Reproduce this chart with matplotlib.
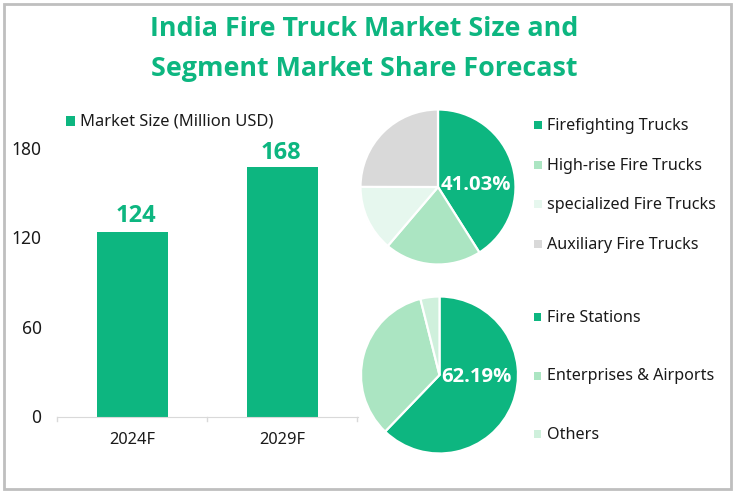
import matplotlib
matplotlib.use("Agg")
import matplotlib.pyplot as plt
from matplotlib.patches import Rectangle
from matplotlib.transforms import ScaledTranslation

plt.rcParams['font.family'] = ['Noto Sans', 'DejaVu Sans']
BOLD = ['Open Sans', 'Liberation Sans', 'DejaVu Sans']

W, H = 735, 495
GREEN = '#0DB680'
years = ['2024F', '2029F']
market_size = [124, 168]
y_ticks = [0, 60, 120, 180]
bar_legend = 'Market Size (Million USD)'
title_lines = ['India Fire Truck Market Size and', 'Segment Market Share Forecast']

seg_labels = ['Firefighting Trucks', 'High-rise Fire Trucks', 'specialized Fire Trucks', 'Auxiliary Fire Trucks']
seg_values = [41.03, 20.2, 13.8, 24.97]
seg_colors = [GREEN, '#ABE5C2', '#E6F7EE', '#D9D9D9']
seg_center_label = '41.03%'

app_labels = ['Fire Stations', 'Enterprises & Airports', 'Others']
app_values = [62.19, 33.9, 3.91]
app_colors = [GREEN, '#ABE5C2', '#CFF0DC']
app_center_label = '62.19%'

fig = plt.figure(figsize=(W / 100, H / 100), dpi=100)
bg = fig.add_axes([0, 0, 1, 1])
bg.set_xlim(0, W)
bg.set_ylim(H, 0)
bg.axis('off')
bg.add_patch(Rectangle((4, 4), 727, 485, fill=False, ec='#BFBFBF', lw=2))


def axes_px(x0, y0, x1, y1):
    return fig.add_axes([x0 / W, 1 - y1 / H, (x1 - x0) / W, (y1 - y0) / H])


for line, y in zip(title_lines, [36, 76]):
    bg.text(364, y, line, ha='center', va='baseline', fontsize=19.4,
            family=BOLD, fontweight='bold', color=GREEN)

# Bars
ax = axes_px(57.5, 149, 357.5, 417)
ax.patch.set_alpha(0)
ax.bar(range(len(years)), market_size, width=71 / 150, color=GREEN)
ax.set_xlim(-0.5, 1.5)
ax.set_ylim(0, 180)
ax.set_yticks(y_ticks)
ax.set_xticks(range(len(years)))
ax.set_xticklabels(years)
for s in ['top', 'right', 'left']:
    ax.spines[s].set_visible(False)
ax.spines['bottom'].set_color('#D9D9D9')
ax.tick_params(axis='y', length=0, pad=11.5, labelsize=12.5, colors='#1a1a1a')
ax.tick_params(axis='x', length=0, pad=11, labelsize=11.8, colors='#1a1a1a')
shift_up = ScaledTranslation(0, 1 / 100, fig.dpi_scale_trans)
for lab in ax.get_yticklabels():
    lab.set_transform(lab.get_transform() + shift_up)
for edge in [0, 150, 300]:
    bg.plot([57.5 + edge] * 2, [417, 421], color='#D9D9D9', lw=1)
value_label_offsets = [(2.5, 3), (-1, 1.3)]
for i, v in enumerate(market_size):
    ax.annotate(str(v), (i, v), xytext=value_label_offsets[i], textcoords='offset points',
                ha='center', va='bottom', fontsize=17, family=BOLD, fontweight='bold', color=GREEN)

bg.add_patch(Rectangle((66, 116), 9.5, 10, fc=GREEN, ec='none'))
bg.text(80, 121.5, bar_legend, ha='left', va='center', fontsize=11.9, color='#1a1a1a')


def pie(cx, cy, r, values, colors, label, label_x, label_y):
    a = axes_px(cx - r, cy - r, cx + r, cy + r)
    a.pie(values, colors=colors, startangle=90, counterclock=False, radius=1,
          wedgeprops=dict(edgecolor='white', linewidth=1.6))
    a.set_xlim(-1, 1)
    a.set_ylim(-1, 1)
    a.set_aspect('auto')
    a.text((label_x - cx) / r, (cy - label_y) / r, label, ha='center', va='center', fontsize=14.6,
           family=BOLD, fontweight='bold', color='white')


pie(438, 187, 77.5, seg_values, seg_colors, seg_center_label, 476, 185)
pie(439.5, 375, 78.5, app_values, app_colors, app_center_label, 476.5, 377.5)


def legend(labels, colors, ys, sx0, sx1, tx):
    for lab, col, y in zip(labels, colors, ys):
        bg.add_patch(Rectangle((sx0, y - 4), sx1 - sx0, 8, fc=col, ec='none'))
        bg.text(tx, y + 1, lab, ha='left', va='center', fontsize=11.6, color='#1a1a1a')


legend(seg_labels, seg_colors, [125, 165, 204, 244], 534, 542, 547)
legend(app_labels, app_colors, [317, 375.5, 434], 534, 541, 547)

fig.savefig('out.png', dpi=100)
